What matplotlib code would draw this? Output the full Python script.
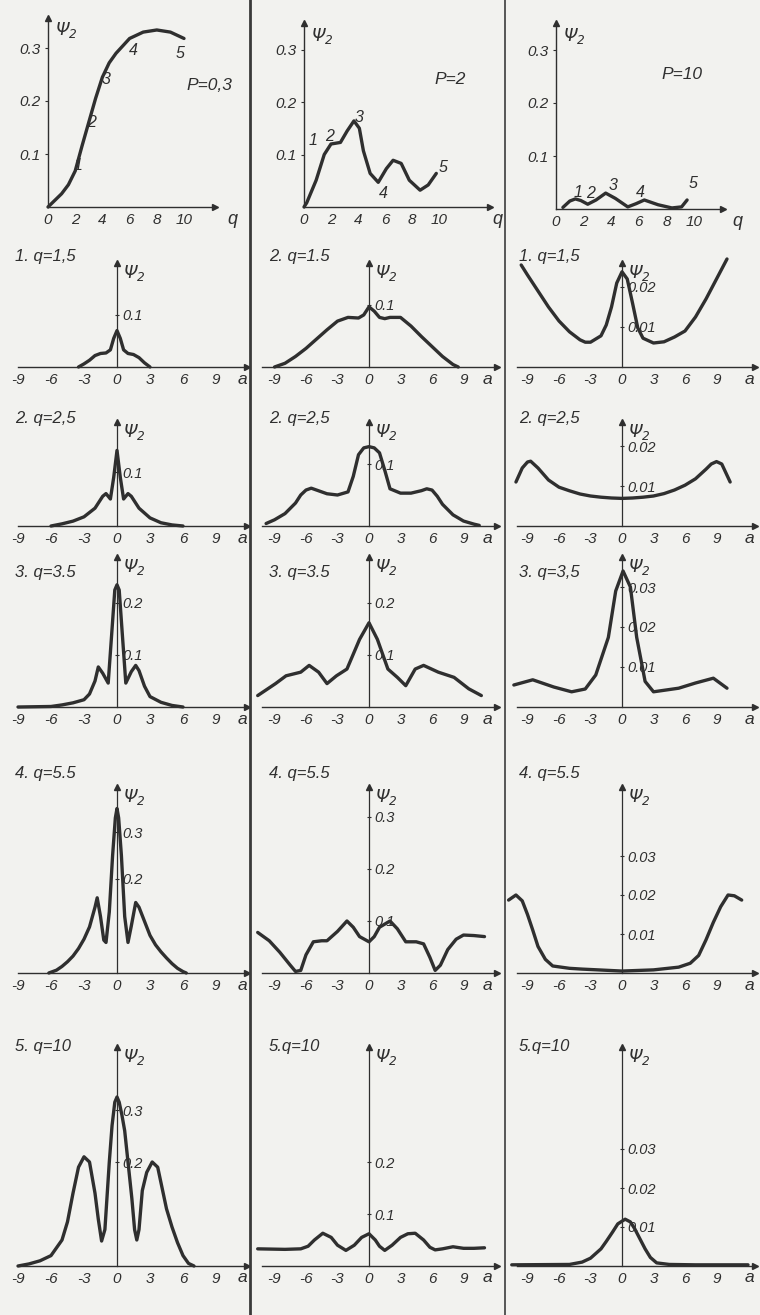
import matplotlib
matplotlib.use("Agg")
import matplotlib.pyplot as plt
from matplotlib.lines import Line2D

# ---------------- data ----------------
# top row: psi_2 versus q for three values of P
q_p03 = [0, 1, 1.5, 2, 2.5, 3, 3.5, 4, 4.5, 5, 6, 7, 8, 9, 10]
psi_p03 = [0, 0.025, 0.042, 0.068, 0.115, 0.16, 0.205, 0.245, 0.272, 0.29, 0.318, 0.33, 0.334, 0.33, 0.318]

q_p2 = [0, 0.2, 0.9, 1.5, 2.0, 2.7, 3.2, 3.7, 4.1, 4.4, 4.9, 5.5, 6.1, 6.6, 7.2, 7.8, 8.6, 9.2, 9.8]
psi_p2 = [0, 0.008, 0.051, 0.1, 0.12, 0.123, 0.145, 0.164, 0.15, 0.107, 0.064, 0.047, 0.073, 0.089, 0.083, 0.051, 0.032, 0.042, 0.064]

q_p10 = [0.5, 1.0, 1.4, 1.8, 2.3, 2.9, 3.6, 4.3, 5.2, 5.8, 6.4, 7.4, 8.4, 9.1, 9.5]
psi_p10 = [0.003, 0.015, 0.019, 0.016, 0.009, 0.017, 0.03, 0.02, 0.004, 0.01, 0.017, 0.008, 0.002, 0.004, 0.017]

top_p_labels = ["P=0,3", "P=2", "P=10"]
point_labels = ["1", "2", "3", "4", "5"]
x_ticks_q = [0, 2, 4, 6, 8, 10]
y_ticks_top = [0.1, 0.2, 0.3]

# rows 2-6: psi_2 versus a
a_r2c1 = [-3.5, -3, -2.5, -2, -1.5, -1, -0.6, -0.3, 0, 0.3, 0.6, 1, 1.5, 2, 2.5, 3]
p_r2c1 = [0, 0.006, 0.013, 0.022, 0.026, 0.027, 0.033, 0.055, 0.07, 0.055, 0.033, 0.026, 0.024, 0.018, 0.008, 0]
a_r2c2 = [-9, -8, -7, -6, -5, -4, -3, -2, -1, -0.5, 0, 0.5, 1, 1.5, 2, 3, 4, 5, 6, 7, 8, 8.5]
p_r2c2 = [0.0, 0.006, 0.017, 0.03, 0.045, 0.06, 0.074, 0.08, 0.079, 0.084, 0.097, 0.09, 0.08, 0.078, 0.08, 0.08, 0.066, 0.049, 0.033, 0.017, 0.004, 0]
a_r2c3 = [-9.6, -9, -8, -7, -6, -5, -4, -3.5, -3, -2, -1.5, -1, -0.5, 0, 0.5, 1, 1.5, 2, 3, 4, 5, 6, 7, 8, 9, 10]
p_r2c3 = [0.0255, 0.023, 0.019, 0.015, 0.0115, 0.0088, 0.0068, 0.0062, 0.0062, 0.0078, 0.0105, 0.015, 0.021, 0.0238, 0.022, 0.016, 0.0098, 0.0072, 0.006, 0.0063, 0.0075, 0.009, 0.0125, 0.017, 0.022, 0.027]

a_r3c1 = [-6, -5, -4, -3, -2, -1.3, -1, -0.6, -0.3, 0, 0.3, 0.6, 1, 1.3, 2, 3, 4, 5, 6]
p_r3c1 = [0, 0.004, 0.009, 0.017, 0.033, 0.055, 0.06, 0.05, 0.09, 0.14, 0.09, 0.05, 0.06, 0.055, 0.033, 0.015, 0.006, 0.002, 0]
a_r3c2 = [-9.8, -9, -8, -7, -6.5, -6, -5.5, -5, -4, -3, -2, -1.5, -1, -0.5, 0, 0.5, 1, 1.5, 2, 3, 4, 5, 5.5, 6, 6.5, 7, 8, 9, 10, 10.5]
p_r3c2 = [0.004, 0.01, 0.02, 0.037, 0.05, 0.058, 0.061, 0.058, 0.052, 0.05, 0.055, 0.08, 0.115, 0.126, 0.128, 0.126, 0.118, 0.09, 0.06, 0.053, 0.053, 0.057, 0.06, 0.058, 0.048, 0.035, 0.018, 0.008, 0.003, 0.001]
a_r3c3 = [-10.1, -9.5, -9, -8.7, -8, -7, -6, -5, -4, -3, -2, -1, 0, 1, 2, 3, 4, 5, 6, 7, 8, 8.5, 9, 9.5, 10.3]
p_r3c3 = [0.011, 0.0145, 0.016, 0.0162, 0.0145, 0.0115, 0.0097, 0.0088, 0.008, 0.0075, 0.0072, 0.007, 0.0069, 0.007, 0.0072, 0.0075, 0.0081, 0.009, 0.0102, 0.0118, 0.0142, 0.0155, 0.0161, 0.0155, 0.011]

a_r4c1 = [-9, -6, -5, -4, -3, -2.5, -2, -1.7, -1.3, -0.8, -0.45, -0.2, 0, 0.2, 0.45, 0.8, 1.3, 1.7, 2, 2.5, 3, 4, 5, 6]
p_r4c1 = [0, 0.001, 0.004, 0.008, 0.014, 0.025, 0.05, 0.077, 0.065, 0.046, 0.15, 0.225, 0.235, 0.225, 0.15, 0.046, 0.068, 0.08, 0.07, 0.04, 0.02, 0.009, 0.003, 0]
a_r4c2 = [-10.6, -8.9, -7.9, -6.5, -5.7, -4.8, -4.0, -3.1, -2.1, -0.9, 0, 0.8, 1.8, 2.7, 3.5, 4.4, 5.2, 6.6, 8.1, 9.5, 10.7]
p_r4c2 = [0.022, 0.045, 0.06, 0.067, 0.08, 0.067, 0.045, 0.06, 0.073, 0.13, 0.162, 0.13, 0.073, 0.057, 0.041, 0.073, 0.08, 0.067, 0.057, 0.035, 0.022]
a_r4c3 = [-10.3, -8.5, -6.5, -4.8, -3.5, -2.5, -1.3, -0.6, 0.1, 0.8, 1.4, 2.2, 3.0, 5.4, 7, 8.7, 10]
p_r4c3 = [0.0055, 0.0068, 0.005, 0.0038, 0.0045, 0.008, 0.0174, 0.029, 0.034, 0.030, 0.0174, 0.0064, 0.0038, 0.0047, 0.006, 0.0072, 0.0047]

a_r5c1 = [-6.2, -5.5, -5, -4.5, -4, -3.5, -3, -2.5, -2, -1.8, -1.5, -1.2, -1.0, -0.7, -0.4, -0.15, 0, 0.15, 0.4, 0.7, 1.0, 1.3, 1.7, 2.0, 2.5, 3, 3.5, 4, 4.5, 5, 5.5, 6, 6.3]
p_r5c1 = [0, 0.006, 0.014, 0.024, 0.036, 0.052, 0.072, 0.098, 0.14, 0.16, 0.12, 0.07, 0.065, 0.13, 0.25, 0.33, 0.35, 0.33, 0.25, 0.12, 0.065, 0.1, 0.15, 0.14, 0.11, 0.08, 0.06, 0.045, 0.032, 0.02, 0.01, 0.003, 0]
a_r5c2 = [-10.6, -9.5, -8.5, -7.5, -7, -6.5, -6, -5.3, -4.5, -4, -3, -2.1, -1.5, -0.9, 0, 0.5, 1, 2, 2.7, 3.5, 4.5, 5.2, 5.8, 6.3, 6.8, 7.5, 8.3, 9, 10, 11]
p_r5c2 = [0.078, 0.062, 0.04, 0.015, 0.003, 0.005, 0.035, 0.06, 0.062, 0.062, 0.08, 0.1, 0.088, 0.07, 0.06, 0.07, 0.088, 0.1, 0.085, 0.06, 0.06, 0.056, 0.03, 0.005, 0.015, 0.045, 0.065, 0.073, 0.072, 0.07]
a_r5c3 = [-10.8, -10.1, -9.5, -9, -8.5, -8, -7.3, -6.6, -5, -3.8, 0, 3, 5.4, 6.5, 7.3, 8, 8.7, 9.4, 10.1, 10.7, 11.4]
p_r5c3 = [0.0187, 0.02, 0.0185, 0.015, 0.011, 0.0068, 0.0035, 0.0018, 0.0012, 0.001, 0.0005, 0.0008, 0.0015, 0.0025, 0.0045, 0.0085, 0.013, 0.017, 0.02, 0.0198, 0.0187]

a_r6c1 = [-9, -8, -7, -6, -5, -4.5, -4, -3.5, -3, -2.5, -2, -1.7, -1.4, -1.1, -0.7, -0.45, -0.2, 0, 0.2, 0.45, 0.7, 1.0, 1.35, 1.6, 1.8, 2.0, 2.3, 2.7, 3.2, 3.7, 4.5, 5, 5.5, 6, 6.5, 7]
p_r6c1 = [0, 0.004, 0.01, 0.02, 0.05, 0.085, 0.14, 0.19, 0.21, 0.2, 0.14, 0.09, 0.048, 0.07, 0.2, 0.27, 0.315, 0.325, 0.315, 0.29, 0.26, 0.2, 0.13, 0.07, 0.05, 0.07, 0.145, 0.18, 0.2, 0.19, 0.11, 0.075, 0.045, 0.02, 0.005, 0]
a_r6c2 = [-10.6, -8, -6.5, -5.8, -5.2, -4.4, -3.6, -3, -2.2, -1.4, -0.7, 0, 0.6, 1, 1.5, 2.2, 3, 3.7, 4.4, 5.2, 5.8, 6.3, 7, 8, 9, 10, 11]
p_r6c2 = [0.033, 0.032, 0.033, 0.038, 0.05, 0.063, 0.055, 0.04, 0.03, 0.04, 0.055, 0.062, 0.05, 0.038, 0.03, 0.04, 0.055, 0.062, 0.063, 0.05, 0.036, 0.031, 0.033, 0.037, 0.034, 0.034, 0.035]
a_r6c3 = [-10.5, -5, -3.8, -3, -2, -1.5, -0.9, -0.4, 0.3, 0.8, 1.2, 1.7, 2.2, 2.7, 3.3, 4.5, 7, 12]
p_r6c3 = [0.0003, 0.0004, 0.001, 0.002, 0.0044, 0.0063, 0.0087, 0.0108, 0.012, 0.0113, 0.0096, 0.007, 0.0044, 0.0022, 0.0008, 0.0004, 0.0003, 0.0003]

panel_titles = [
    ["1. q=1,5", "2. q=1.5", "1. q=1,5"],
    ["2. q=2,5", "2. q=2,5", "2. q=2,5"],
    ["3. q=3.5", "3. q=3.5", "3. q=3,5"],
    ["4. q=5.5", "4. q=5.5", "4. q=5.5"],
    ["5. q=10", "5.q=10", "5.q=10"],
]
y_ticks_lower = [
    [[0.1], [0.1], [0.01, 0.02]],
    [[0.1], [0.1], [0.01, 0.02]],
    [[0.1, 0.2], [0.1, 0.2], [0.01, 0.02, 0.03]],
    [[0.2, 0.3], [0.1, 0.2, 0.3], [0.01, 0.02, 0.03]],
    [[0.2, 0.3], [0.1, 0.2], [0.01, 0.02, 0.03]],
]
x_ticks_a = [-9, -6, -3, 0, 3, 6, 9]

curves = [
    [(a_r2c1, p_r2c1), (a_r2c2, p_r2c2), (a_r2c3, p_r2c3)],
    [(a_r3c1, p_r3c1), (a_r3c2, p_r3c2), (a_r3c3, p_r3c3)],
    [(a_r4c1, p_r4c1), (a_r4c2, p_r4c2), (a_r4c3, p_r4c3)],
    [(a_r5c1, p_r5c1), (a_r5c2, p_r5c2), (a_r5c3, p_r5c3)],
    [(a_r6c1, p_r6c1), (a_r6c2, p_r6c2), (a_r6c3, p_r6c3)],
]

# ---------------- layout / style ----------------
W, H = 760, 1315
INK = "#2f2f2f"
plt.rcParams["font.family"] = ["Liberation Sans", "DejaVu Sans"]
plt.rcParams["font.style"] = "italic"
plt.rcParams["mathtext.default"] = "it"
plt.rcParams["axes.unicode_minus"] = False

fig = plt.figure(figsize=(7.6, 13.15), dpi=100)
fig.patch.set_facecolor("#f2f2ef")


def fx(x):
    return x / W


def fy(y):
    return 1 - y / H


def ptext(x, y, s, size=11, ha="left", va="center"):
    fig.text(fx(x), fy(y), s, fontsize=size, color=INK, ha=ha, va=va)


# dividers
fig.add_artist(Line2D([fx(250), fx(250)], [0, 1], color="#3a3a3a", lw=2.0))
fig.add_artist(Line2D([fx(505), fx(505)], [0, 1], color="#4a4a4a", lw=1.3))

# ---------- top row ----------
TOP = [  # origin x, origin y, px per q, px per psi, axis top px, x right px, q-label x
    (48, 207, 13.6, 530, 18, 215, 232),
    (304, 207, 13.5, 525, 23, 490, 497),
    (556, 209, 13.8, 530, 23, 723, 737),
]
top_curves = [(q_p03, psi_p03), (q_p2, psi_p2), (q_p10, psi_p10)]
top_label_pos = [
    [(2.2, 0.079), (3.2, 0.16), (4.3, 0.24), (6.25, 0.296), (9.7, 0.29)],
    [(0.7, 0.126), (1.9, 0.134), (4.1, 0.17), (5.85, 0.026), (10.3, 0.075)],
    [(1.6, 0.032), (2.5, 0.03), (4.1, 0.045), (6.1, 0.032), (9.9, 0.049)],
]
top_p_pos = [(11.9, 0.23), (10.8, 0.243), (9.1, 0.253)]

for c in range(3):
    ox, oy, ppq, pps, ytop, xright, qx = TOP[c]
    ax = fig.add_axes([fx(ox), fy(oy), (xright - ox) / W, (oy - ytop) / H])
    ax.set_xlim(0, (xright - ox) / ppq)
    ymax = (oy - ytop) / pps
    ax.set_ylim(0, ymax)
    ax.patch.set_visible(False)
    q, p = top_curves[c]
    ax.plot(q, p, color=INK, lw=2.4, solid_joinstyle="round", solid_capstyle="round", clip_on=False)
    for s in ["top", "right"]:
        ax.spines[s].set_visible(False)
    for s in ["left", "bottom"]:
        ax.spines[s].set_color(INK)
        ax.spines[s].set_linewidth(1.0)
    ax.set_xticks(x_ticks_q)
    ax.set_xticklabels([str(v) for v in x_ticks_q])
    ax.set_yticks(y_ticks_top)
    ax.set_yticklabels([f"{v:.1f}" for v in y_ticks_top])
    ax.tick_params(axis="x", length=0, pad=4, labelsize=11, colors=INK)
    ax.tick_params(axis="y", length=2, width=0.8, pad=3, labelsize=11, colors=INK)
    ax.plot([0], [ymax], marker="^", ms=4, color=INK, clip_on=False)
    ax.plot([(xright - ox) / ppq], [0], marker=">", ms=4, color=INK, clip_on=False)
    ax.annotate(r"$\Psi_2$", xy=(0, ymax), xytext=(5, -9), textcoords="offset points",
                fontsize=12.5, color=INK, ha="left", va="center")
    for lab, (lx, ly) in zip(point_labels, top_label_pos[c]):
        ax.text(lx, ly, lab, fontsize=11.5, color=INK, ha="center", va="center", clip_on=False)
    px_, py_ = top_p_pos[c]
    ax.text(px_, py_, top_p_labels[c], fontsize=12.5, color=INK, ha="center", va="center", clip_on=False)
    ptext(qx, oy + 12, "q", size=13, ha="center")

# ---------- lower rows ----------
ROW_BASE = [367, 526, 707, 973, 1266]
ROW_TOP = [263, 422, 557, 787, 1047]
ROW_TITLE_Y = [257, 418, 573, 773, 1047]
AXIS_X = [117, 369, 622]
PPU = [11.0, 10.5, 10.5]
XLIM = [(-9.0, 11.8), (-10.2, 12.2), (-10.0, 12.7)]
A_LABEL_X = [242, 487, 749]
TITLE_X = [15, 269, 519]
YSCALE = [
    [520, 620, 4000],
    [540, 620, 4000],
    [520, 520, 4000],
    [470, 520, 3900],
    [520, 520, 3900],
]

for r in range(5):
    base, top = ROW_BASE[r], ROW_TOP[r]
    for c in range(3):
        x0, ppu, xl = AXIS_X[c], PPU[c], XLIM[c]
        left = x0 + xl[0] * ppu
        right = x0 + xl[1] * ppu
        ys = YSCALE[r][c]
        ax = fig.add_axes([fx(left), fy(base), (right - left) / W, (base - top) / H])
        ax.set_xlim(xl)
        ymax = (base - top) / ys
        ax.set_ylim(0, ymax)
        ax.patch.set_visible(False)
        a, p = curves[r][c]
        ax.plot(a, p, color=INK, lw=2.4, solid_joinstyle="round", solid_capstyle="round", clip_on=False)
        ax.spines["top"].set_visible(False)
        ax.spines["left"].set_visible(False)
        ax.spines["right"].set_position(("data", 0))
        ax.spines["right"].set_color(INK)
        ax.spines["right"].set_linewidth(0.9)
        ax.spines["bottom"].set_color(INK)
        ax.spines["bottom"].set_linewidth(1.0)
        ax.yaxis.tick_right()
        ax.set_xticks(x_ticks_a)
        ax.set_xticklabels([str(v) for v in x_ticks_a])
        yt = y_ticks_lower[r][c]
        ax.set_yticks(yt)
        ax.set_yticklabels([f"{v:.2f}" if v < 0.1 else f"{v:.1f}" for v in yt])
        ax.tick_params(axis="x", length=0, pad=4, labelsize=11, colors=INK)
        ax.tick_params(axis="y", length=3, width=0.8, direction="inout", pad=2, labelsize=10.5, colors=INK)
        ax.plot([0], [ymax], marker="^", ms=4, color=INK, clip_on=False)
        ax.plot([xl[1]], [0], marker=">", ms=4, color=INK, clip_on=False)
        ax.annotate(r"$\Psi_2$", xy=(0, ymax), xytext=(4, -7), textcoords="offset points",
                    fontsize=12.5, color=INK, ha="left", va="center")
        ptext(A_LABEL_X[c], base + 12, "a", size=12.5, ha="center")
        ptext(TITLE_X[c], ROW_TITLE_Y[r], panel_titles[r][c], size=12)

fig.savefig("out.png", dpi=100, facecolor=fig.get_facecolor())
